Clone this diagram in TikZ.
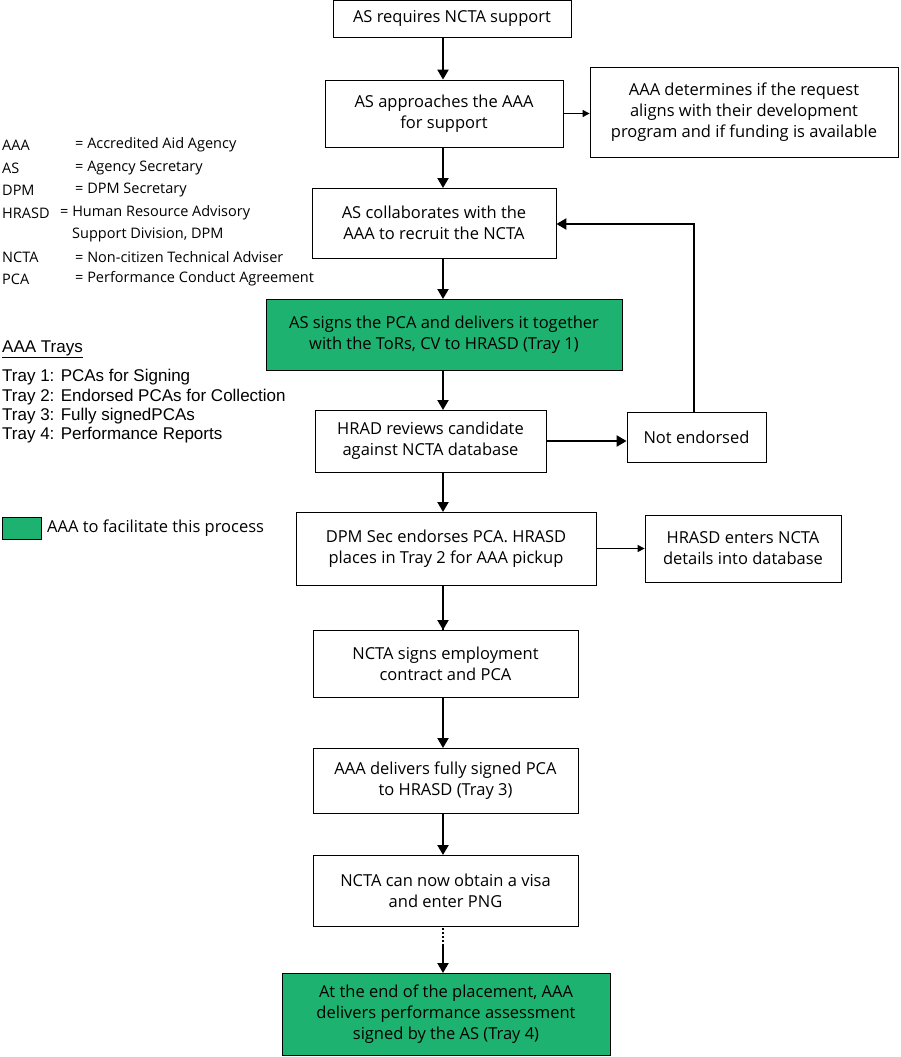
\documentclass[tikz,border=0pt]{standalone}
\usepackage{fontspec}
\setmainfont{Open Sans}
\newfontfamily\arialf{Liberation Sans}
\usetikzlibrary{arrows.meta}
\definecolor{grn}{RGB}{30,178,112}
\begin{document}
\begin{tikzpicture}[x=1pt,y=-1pt,
 box/.style={draw,line width=0.8pt,align=center,inner sep=0pt,font=\fontsize{16.5}{21}\selectfont},
 gbox/.style={box,fill=grn},
 arr/.style={line width=2.2pt,-{Triangle[length=10pt,width=11pt]}},
 tarr/.style={line width=1pt,-{Triangle[length=7pt,width=7pt]}},
 leg/.style={anchor=west,inner sep=0pt,font=\fontsize{14.5}{17}\selectfont}]
\useasboundingbox (0,0) rectangle (900,1057);
\node[box,minimum width=238pt,minimum height=37pt] (b1) at (452,18.5) {AS requires NCTA support};
\node[box,minimum width=238pt,minimum height=67pt] (b2) at (444,113.5) {AS approaches the AAA\\for support};
\node[box,minimum width=308pt,minimum height=90pt] (r1) at (744,112) {AAA determines if the request\\aligns with their development\\program and if funding is available};
\node[box,minimum width=244pt,minimum height=70pt] (b3) at (434,223) {AS collaborates with the\\AAA to recruit the NCTA};
\node[gbox,minimum width=356pt,minimum height=71pt] (b4) at (444,334.5) {AS signs the PCA and delivers it together\\with the ToRs, CV to HRASD (Tray 1)};
\node[box,minimum width=231pt,minimum height=62pt] (b5) at (430.5,441) {HRAD reviews candidate\\against NCTA database};
\node[box,minimum width=139pt,minimum height=50pt] (ne) at (696.5,437) {Not endorsed};
\node[box,minimum width=300pt,minimum height=73pt] (b6) at (446,548.5) {DPM Sec endorses PCA. HRASD\\places in Tray 2 for AAA pickup};
\node[box,minimum width=196pt,minimum height=67pt] (r2) at (743,548.5) {HRASD enters NCTA\\details into database};
\node[box,minimum width=265pt,minimum height=67pt] (b7) at (445.5,663.5) {NCTA signs employment\\contract and PCA};
\node[box,minimum width=265pt,minimum height=65pt] (b8) at (445.5,780.5) {AAA delivers fully signed PCA\\to HRASD (Tray 3)};
\node[box,minimum width=265pt,minimum height=71pt] (b9) at (445.5,890.5) {NCTA can now obtain a visa\\and enter PNG};
\node[gbox,minimum width=328pt,minimum height=82pt] (b10) at (446,1014) {At the end of the placement, AAA\\delivers performance assessment\\signed by the AS (Tray 4)};
\draw[arr] (443,37) -- (b2.north-|443,0);
\draw[arr] (443,147) -- (443,188);
\draw[arr] (443,258) -- (443,299);
\draw[arr] (443,370) -- (443,410);
\draw[arr] (443,472) -- (443,512);
\draw[line width=2.2pt] (443,585) -- (443,630);
\draw[arr] (443,585) -- (443,630);
\draw[arr] (443,697) -- (443,748);
\draw[arr] (443,813) -- (443,855);
\draw[line width=2.2pt,dash pattern=on 2pt off 2pt] (443,928) -- (443,945);
\draw[arr] (443,945) -- (443,973);
\draw[tarr] (b2.east) -- (r1.west|-b2.east);
\draw[arr] (b5.east) -- (ne.west|-b5.east);
\draw[tarr] (b6.east) -- (r2.west);
\coordinate (c1) at (694,224);
\draw[line width=2.2pt,-{Triangle[length=10pt,width=11pt]}] (ne.north-|694,0) -- (c1) -- (b3.east|-c1);
% legend
\node[leg] (l1) at (2,145) {AAA};
\node[leg] (l1b) at (75,145) {= Accredited Aid Agency};
\node[leg] (l2) at (2,168) {AS};
\node[leg] (l2b) at (75,168) {= Agency Secretary};
\node[leg] (l3) at (2,190) {DPM};
\node[leg] (l3b) at (75,190) {= DPM Secretary};
\node[leg] (l4) at (2,213) {HRASD};
\node[leg] (l4b) at (60,213) {= Human Resource Advisory};
\node[leg] (l4c) at (72,235) {Support Division, DPM};
\node[leg] (l5) at (2,257) {NCTA};
\node[leg] (l5b) at (75,257) {= Non-citizen Technical Adviser};
\node[leg] (l6) at (2,279) {PCA};
\node[leg] (l6b) at (75,279) {= Performance Conduct Agreement};
\begin{scope}[every node/.style={anchor=west,inner sep=0pt,font=\arialf\fontsize{17}{20}\selectfont}]
\node (t0) at (2,349) {\underline{AAA Trays}};
\node (t1) at (2,377) {Tray 1: PCAs for Signing};
\node (t2) at (2,397) {Tray 2: Endorsed PCAs for Collection};
\node (t3) at (2,416) {Tray 3: Fully signedPCAs};
\node (t4) at (2,435) {Tray 4: Performance Reports};
\end{scope}
\draw[fill=grn,line width=0.8pt] (2,517) rectangle (41,539);
\node[anchor=west,inner sep=0pt,font=\fontsize{16.5}{20}\selectfont] (lg) at (47,528) {AAA to facilitate this process};
\end{tikzpicture}
\end{document}
